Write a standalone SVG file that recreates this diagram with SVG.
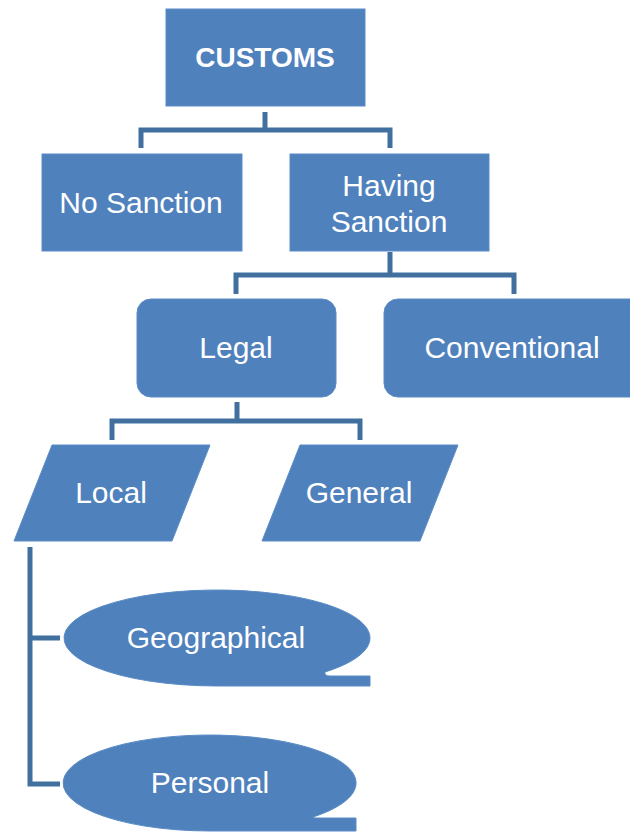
<svg xmlns="http://www.w3.org/2000/svg" width="630" height="832" viewBox="0 0 630 832">
<style>
.n{fill:#4f81bd;stroke:#5b8cc6;stroke-width:1}
.t{fill:#ffffff;font-family:"Liberation Sans",Arial,sans-serif;font-size:30px;text-anchor:middle}
.b{font-weight:bold;font-size:28px}
.c{fill:none;stroke:#41709f;stroke-width:5;stroke-linejoin:miter}
</style>
<g id="connectors">
<path class="c" d="M265 112 V130 M141 148 V130 H390 V148"/>
<path class="c" d="M390 252 V275 M236 294 V275 H514 V294"/>
<path class="c" d="M237 402 V421 M112 440 V421 H360 V440"/>
<path class="c" d="M30 547 V784 H60 M30 638 H60"/>
</g>
<g id="customs"><rect class="n" x="166" y="9" width="199" height="97"/><text class="t b" x="265" y="67">CUSTOMS</text></g>
<g id="no-sanction"><rect class="n" x="42" y="154" width="200" height="97"/><text class="t" x="141" y="213">No Sanction</text></g>
<g id="having-sanction"><rect class="n" x="290" y="154" width="199" height="97"/><text class="t" x="389" y="196">Having</text><text class="t" x="389" y="232">Sanction</text></g>
<g id="legal"><rect class="n" x="137" y="299" width="199" height="98" rx="14"/><text class="t" x="236" y="358">Legal</text></g>
<g id="conventional"><rect class="n" x="384" y="299" width="262" height="98" rx="14"/><text class="t" x="512" y="358">Conventional</text></g>
<g id="local"><polygon class="n" points="52,445 210,445 172,541 14,541"/><text class="t" x="111" y="503">Local</text></g>
<g id="general"><polygon class="n" points="300,445 458,445 420,541 262,541"/><text class="t" x="359" y="503">General</text></g>
<g id="geographical"><path class="n" d="M216.5 686 A153 48 0 1 1 325 672 Q324 676 330 676 L370 676 L370 686 Z"/><text class="t" x="216" y="648">Geographical</text></g>
<g id="personal"><path class="n" d="M209.5 831 A146.5 48 0 1 1 313 817 Q312 818 318 818 L356 818 L356 831 Z"/><text class="t" x="210" y="793">Personal</text></g>
</svg>
